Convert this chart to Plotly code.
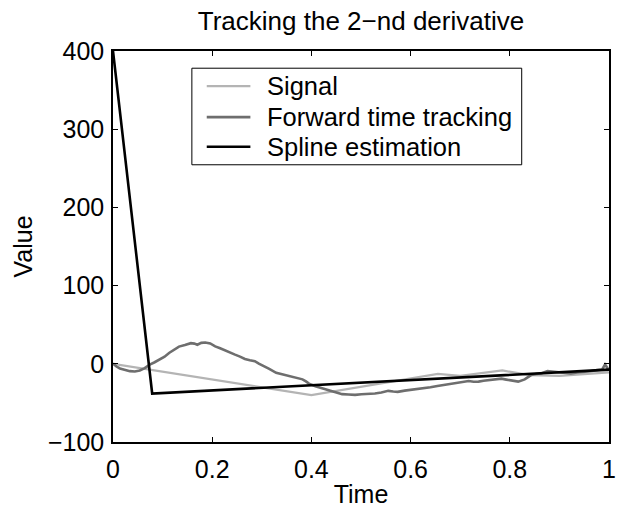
"""Tracking the 2-nd derivative: signal vs. forward tracking vs. spline."""

import plotly.graph_objects as go

FONT = "Liberation Sans, Arial, Helvetica, sans-serif"

COLORS = {
    "signal": "#b4b4b4",
    "forward": "#6e6e6e",
    "spline": "#000000",
    "axis": "#000000",
}
WIDTHS = {"signal": 2.2, "forward": 2.6, "spline": 2.6}

# ---- data ----
series_keys = ["signal", "forward", "spline"]
series_names = ["Signal", "Forward time tracking", "Spline estimation"]

signal_t = [0.0, 0.4, 0.655, 0.70, 0.785, 0.84, 0.90, 1.0]
signal_v = [0.0, -40.0, -13.0, -15.5, -8.5, -14.5, -15.5, -11.0]

forward_t = [
    0.0, 0.007, 0.014, 0.024, 0.034, 0.044, 0.054, 0.064, 0.074, 0.084,
    0.094, 0.104, 0.113, 0.123, 0.133, 0.145, 0.157, 0.164, 0.170, 0.178,
    0.186, 0.196, 0.206, 0.216, 0.226, 0.236, 0.246, 0.256, 0.266, 0.276,
    0.286, 0.294, 0.302, 0.315, 0.329, 0.342, 0.352, 0.362, 0.372, 0.382,
    0.389, 0.395, 0.408, 0.422, 0.432, 0.442, 0.452, 0.462, 0.475, 0.488,
    0.501, 0.515, 0.528, 0.541, 0.555, 0.565, 0.574, 0.588, 0.601, 0.614,
    0.627, 0.640, 0.654, 0.662, 0.671, 0.681, 0.691, 0.704, 0.717, 0.727,
    0.737, 0.747, 0.757, 0.770, 0.783, 0.793, 0.803, 0.817, 0.830, 0.843,
    0.853, 0.863, 0.876, 0.886, 0.896, 0.910, 0.923, 0.936, 0.949, 0.962,
    0.976, 0.986, 0.992, 1.0,
]
forward_v = [
    0.4, -3.5, -6.0, -8.2, -9.4, -9.8, -8.5, -5.5, -1.0, 2.0,
    5.4, 9.0, 13.8, 17.5, 22.0, 24.0, 26.4, 25.8, 24.4, 26.8,
    27.3, 26.0, 22.2, 19.8, 16.8, 14.0, 11.7, 9.2, 6.2, 4.5,
    3.3, 0.2, -2.2, -6.5, -11.5, -13.5, -14.8, -16.5, -17.8, -19.9,
    -22.5, -25.4, -28.6, -31.3, -33.0, -34.6, -36.9, -38.8, -39.2, -39.7,
    -39.0, -38.8, -37.9, -36.8, -34.6, -35.4, -35.9, -34.3, -33.4, -32.6,
    -31.3, -30.0, -28.3, -27.5, -26.2, -25.3, -24.1, -23.2, -22.0, -22.9,
    -22.8, -21.6, -21.1, -20.0, -19.0, -20.2, -21.1, -22.8, -19.9, -14.4,
    -13.1, -12.3, -9.4, -10.0, -11.0, -11.6, -12.3, -11.2, -10.6, -9.6,
    -8.1, -7.4, -0.9, -8.5,
]

spline_t = [0.0, 0.079, 1.0]
spline_v = [400.0, -38.0, -7.5]

x_ticks = [0, 0.2, 0.4, 0.6, 0.8, 1]
x_tick_text = ["0", "0.2", "0.4", "0.6", "0.8", "1"]
y_ticks = [-100, 0, 100, 200, 300, 400]
y_tick_text = ["\u2212100", "0", "100", "200", "300", "400"]


def _axis(title, tickvals, ticktext, rng, label_gap, title_gap):
    return {
        "title": {"text": title, "font": {"size": 25, "color": "black"}, "standoff": title_gap},
        "range": rng,
        "tickvals": tickvals,
        "ticktext": ticktext,
        "ticks": "inside",
        "ticklen": 5,
        "tickwidth": 1,
        "tickcolor": COLORS["axis"],
        "tickfont": {"size": 25, "color": "black"},
        "ticklabelstandoff": label_gap,
        "showline": True,
        "linecolor": COLORS["axis"],
        "linewidth": 1.5,
        "mirror": "ticks",
        "showgrid": False,
        "zeroline": False,
    }


fig = go.Figure()
for key, name, xs, ys in zip(
    series_keys, series_names,
    [signal_t, forward_t, spline_t], [signal_v, forward_v, spline_v],
):
    fig.add_trace(
        go.Scatter(
            x=xs, y=ys, mode="lines", name=name, showlegend=False,
            line={"color": COLORS[key], "width": WIDTHS[key]},
        )
    )

# MATLAB-style boxed legend (plotly's own rows are too tall at this font size)
box = {"x0": 0.159, "x1": 0.824, "y0": 0.709, "y1": 0.956}
row_y = [0.910, 0.831, 0.755]
fig.add_shape(
    type="rect", xref="paper", yref="paper", **box,
    line={"color": "black", "width": 1}, fillcolor="white", layer="above",
)
for key, name, y in zip(series_keys, series_names, row_y):
    fig.add_shape(
        type="line", xref="paper", yref="paper",
        x0=0.189, x1=0.277, y0=y, y1=y, layer="above",
        line={"color": COLORS[key], "width": WIDTHS[key]},
    )
    fig.add_annotation(
        text=name, xref="paper", yref="paper", x=0.3065, y=y,
        xanchor="left", yanchor="middle", showarrow=False,
        font={"size": 25.5, "color": "black"},
    )

# page body has an 8px margin, so the figure is 620x508 and offset by it
fig.update_layout(
    width=620,
    height=508,
    paper_bgcolor="white",
    plot_bgcolor="white",
    font={"family": FONT, "color": "black", "size": 25},
    margin={"l": 105, "r": 12, "t": 43, "b": 69},
    title={
        "text": "Tracking the 2\u2212nd derivative",
        "font": {"size": 26, "color": "black"},
        "x": 0.5,
        "xref": "paper",
        "xanchor": "center",
        "y": 0.993,
        "yanchor": "top",
    },
    xaxis=_axis("Time", x_ticks, x_tick_text, [0, 1], 4, 4),
    yaxis=_axis("Value", y_ticks, y_tick_text, [-100, 400], 2, 8),
    showlegend=False,
)

fig.write_html("out.html")
